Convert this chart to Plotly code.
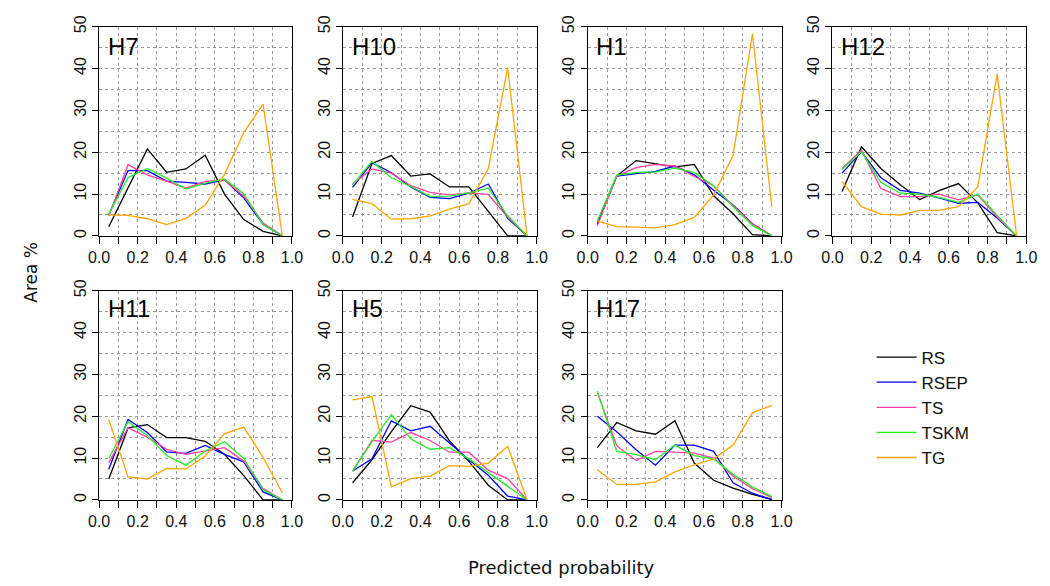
import plotly.graph_objects as go

# Bin centres of predicted probability
x_bins = [0.05, 0.15, 0.25, 0.35, 0.45, 0.55, 0.65, 0.75, 0.85, 0.95]

panels = ["H7", "H10", "H1", "H12", "H11", "H5", "H17"]
methods = ["RS", "RSEP", "TS", "TSKM", "TG"]

# Area % per bin, one list per method for each panel
rs = {
    "H7":  [2.2, 11.5, 20.8, 15.2, 16.0, 19.3, 10.0, 3.9, 1.1, 0.0],
    "H10": [4.5, 17.3, 19.2, 14.3, 14.8, 11.7, 11.7, 5.9, 0.0, 0.0],
    "H1":  [2.9, 14.3, 18.0, 17.2, 16.5, 17.1, 9.6, 5.3, 0.3, 0.0],
    "H12": [10.6, 21.3, 16.1, 12.2, 8.7, 10.8, 12.5, 7.9, 0.8, 0.0],
    "H11": [5.0, 17.2, 18.0, 14.9, 14.9, 14.0, 10.9, 5.8, 0.0, 0.0],
    "H5":  [4.1, 9.6, 16.3, 22.5, 21.0, 14.1, 9.2, 3.5, 0.0, 0.0],
    "H17": [12.5, 18.5, 16.5, 15.7, 18.9, 8.8, 4.7, 2.8, 1.3, 0.2],
}
rsep = {
    "H7":  [5.0, 15.6, 15.6, 13.1, 12.8, 12.4, 13.4, 9.1, 2.8, 0.0],
    "H10": [11.6, 17.5, 15.1, 11.7, 9.2, 8.9, 10.2, 12.4, 4.2, 0.0],
    "H1":  [3.3, 14.3, 14.9, 15.4, 16.7, 14.6, 10.9, 7.4, 2.9, 0.0],
    "H12": [15.0, 20.1, 13.9, 10.9, 10.2, 9.1, 7.8, 8.0, 4.3, 0.0],
    "H11": [7.3, 19.2, 16.1, 11.5, 11.1, 13.0, 10.9, 9.1, 1.9, 0.0],
    "H5":  [6.9, 9.8, 18.9, 16.5, 17.6, 13.5, 9.6, 5.9, 0.9, 0.0],
    "H17": [20.0, 16.3, 12.0, 8.3, 13.1, 13.1, 11.6, 4.1, 1.6, 0.0],
}
ts = {
    "H7":  [4.7, 17.0, 14.6, 13.1, 11.4, 13.0, 13.4, 9.5, 3.1, 0.0],
    "H10": [12.4, 16.0, 15.0, 12.0, 10.4, 9.8, 10.3, 9.9, 4.5, 0.0],
    "H1":  [2.4, 14.3, 16.3, 17.1, 16.7, 14.2, 12.0, 7.2, 2.9, 0.0],
    "H12": [16.1, 20.5, 11.3, 9.4, 9.4, 10.0, 8.6, 9.8, 4.5, 0.0],
    "H11": [8.9, 17.2, 15.0, 12.1, 10.9, 11.7, 12.5, 9.3, 2.7, 0.0],
    "H5":  [6.9, 14.2, 13.8, 16.1, 14.2, 11.4, 11.4, 7.1, 5.1, 0.0],
    "H17": [25.7, 12.9, 9.4, 11.6, 11.4, 11.2, 10.0, 5.7, 2.7, 0.6],
}
tskm = {
    "H7":  [5.2, 13.9, 16.1, 13.8, 11.2, 12.6, 13.6, 10.1, 2.7, 0.0],
    "H10": [12.2, 17.8, 13.9, 11.8, 9.4, 9.5, 10.3, 11.4, 4.8, 0.0],
    "H1":  [3.5, 14.5, 15.1, 15.3, 16.2, 15.1, 12.0, 7.0, 2.5, 0.0],
    "H12": [15.9, 20.1, 12.8, 10.2, 10.0, 9.2, 8.0, 10.0, 4.9, 0.0],
    "H11": [9.9, 18.7, 15.4, 10.6, 8.3, 11.7, 13.9, 9.9, 2.4, 0.0],
    "H5":  [6.9, 13.9, 20.4, 14.6, 12.1, 12.5, 9.8, 6.5, 3.1, 0.0],
    "H17": [26.0, 11.6, 10.8, 9.6, 13.1, 10.6, 9.8, 6.1, 3.1, 0.8],
}
tg = {
    "H7":  [5.0, 4.9, 4.1, 2.7, 4.2, 7.3, 14.7, 24.7, 31.5, 0.0],
    "H10": [8.7, 7.7, 4.0, 4.1, 4.8, 6.4, 7.7, 16.1, 40.2, 0.0],
    "H1":  [3.5, 2.2, 2.1, 1.9, 2.7, 4.4, 9.8, 19.2, 48.3, 6.9],
    "H12": [13.0, 7.0, 5.2, 5.0, 6.1, 6.1, 7.0, 11.7, 38.7, 0.0],
    "H11": [19.2, 5.5, 5.0, 7.5, 7.4, 10.5, 15.8, 17.4, 10.2, 1.7],
    "H5":  [23.9, 24.7, 3.1, 5.1, 5.7, 8.2, 8.0, 8.8, 12.8, 0.0],
    "H17": [7.2, 3.7, 3.7, 4.3, 6.7, 8.4, 9.8, 13.1, 20.8, 22.6],
}

series = {"RS": rs, "RSEP": rsep, "TS": ts, "TSKM": tskm, "TG": tg}
colors = {"RS": "#000000", "RSEP": "#0000FF", "TS": "#FF3D9E",
          "TSKM": "#22EE22", "TG": "#FFA500"}

x_ticks = [0.0, 0.1, 0.2, 0.3, 0.4, 0.5, 0.6, 0.7, 0.8, 0.9, 1.0]
x_ticktext = ["0.0", "", "0.2", "", "0.4", "", "0.6", "", "0.8", "", "1.0"]
y_ticks = [0, 10, 20, 30, 40, 50]

W, H = 1050, 586
# pixel boxes of the panels: (left, right), (top, bottom)
cols = [(90, 287), (339, 537), (589, 787), (839, 1037)]
rows = [(16, 230), (286, 500)]

FONT = "Liberation Sans, Arial, sans-serif"
GRID = "#9a9a9a"

fig = go.Figure()
layout = {}
annotations = []

for i, name in enumerate(panels):
    r, c = divmod(i, 4)
    ax = "" if i == 0 else str(i + 1)
    for m in methods:
        fig.add_trace(go.Scatter(
            x=x_bins, y=series[m][name], mode="lines", name=m,
            line=dict(color=colors[m], width=1.3),
            xaxis="x" + ax, yaxis="y" + ax,
            showlegend=(i == 0), legendgroup=m,
            hoverinfo="skip",
        ))
    x0, x1 = cols[c]
    y0, y1 = rows[r]
    layout["xaxis" + ax] = dict(
        domain=[x0 / W, x1 / W], anchor="y" + ax, range=[0, 1],
        tickmode="array", tickvals=x_ticks, ticktext=x_ticktext,
        ticks="outside", ticklen=7, tickwidth=1, tickcolor="#000",
        ticklabelstandoff=0,
        showline=True, linecolor="#000", linewidth=1, mirror=True,
        showgrid=True, gridcolor=GRID, griddash="dot", gridwidth=1,
        zeroline=False, fixedrange=True,
        tickfont=dict(family=FONT, size=16, color="#111"),
    )
    layout["yaxis" + ax] = dict(
        domain=[1 - y1 / H, 1 - y0 / H], anchor="x" + ax, range=[0, 50],
        tickmode="array", tickvals=y_ticks,
        ticks="outside", ticklen=6, tickwidth=1, tickcolor="#000",
        tickangle=-90, ticklabelstandoff=0,
        showline=True, linecolor="#000", linewidth=1, mirror=True,
        showgrid=True, gridcolor=GRID, griddash="dot", gridwidth=1,
        minor=dict(dtick=5, tick0=0, showgrid=True, gridcolor=GRID,
                   griddash="dot", gridwidth=1, ticks=""),
        zeroline=False, fixedrange=True,
        tickfont=dict(family=FONT, size=16, color="#111"),
    )
    annotations.append(dict(
        text=name, xref="x" + ax + " domain", yref="y" + ax + " domain",
        x=0.035, y=0.905 if r == 0 else 0.913, xanchor="left", yanchor="middle",
        showarrow=False, font=dict(family=FONT, size=24, color="#000"),
    ))

annotations.append(dict(
    text="Predicted probability", xref="paper", yref="paper",
    x=562 / W, y=1 - 569 / H, xanchor="center", yanchor="middle",
    showarrow=False, font=dict(family="DejaVu Sans, sans-serif", size=18, color="#111"),
))
annotations.append(dict(
    text="Area %", xref="paper", yref="paper",
    x=20 / W, y=1 - 267 / H, xanchor="center", yanchor="middle", textangle=-90,
    showarrow=False, font=dict(family="DejaVu Sans, sans-serif", size=17, color="#111"),
))

fig.update_layout(
    width=W, height=H,
    margin=dict(l=0, r=0, t=0, b=0),
    paper_bgcolor="white", plot_bgcolor="white",
    showlegend=True,
    legend=dict(
        x=879 / W, y=1 - 336 / H, xanchor="left", yanchor="top",
        font=dict(family=FONT, size=17, color="#111"),
        bgcolor="rgba(0,0,0,0)", borderwidth=0, tracegroupgap=0,
        itemwidth=40,
    ),
    annotations=annotations,
    **layout,
)

fig.write_html("out.html")
